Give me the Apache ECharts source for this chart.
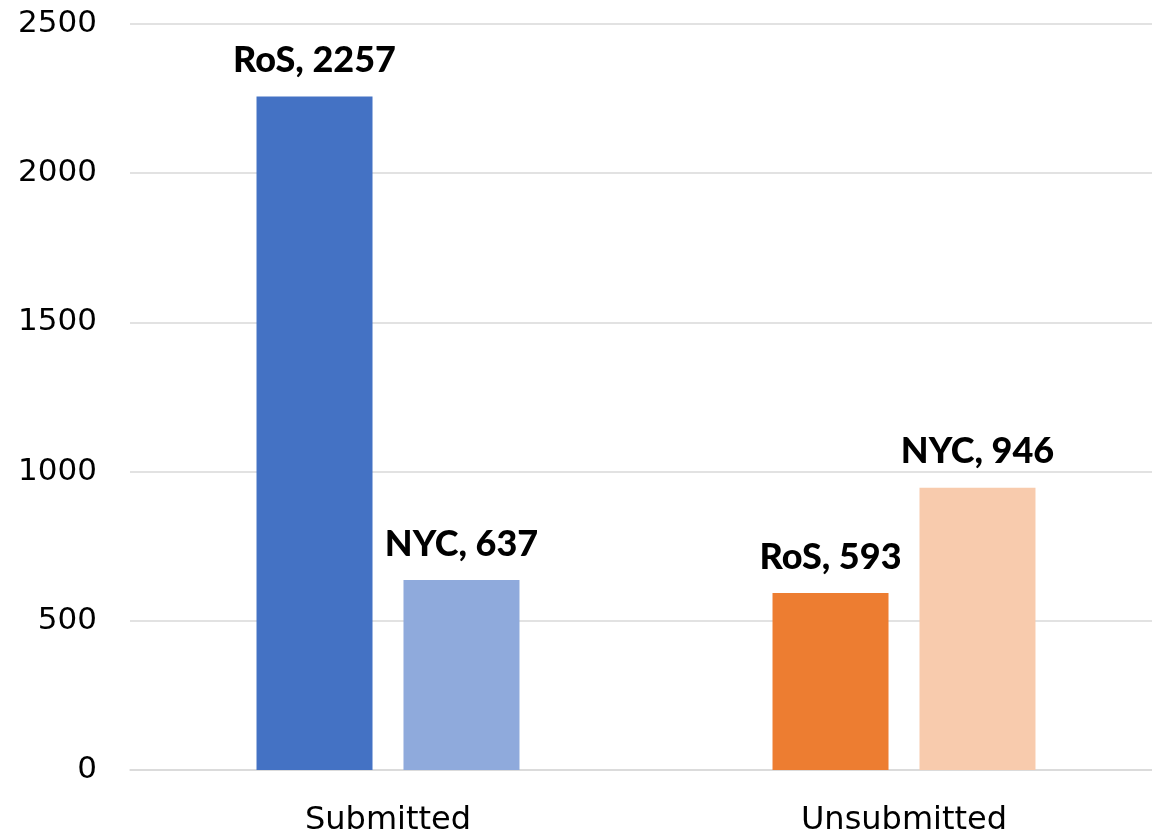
<!DOCTYPE html>
<html>
<head>
<meta charset="utf-8">
<script src="https://cdn.jsdelivr.net/npm/echarts@6/dist/echarts.min.js"></script>
<style>
  html, body { margin: 0; padding: 0; background: #fff; overflow: hidden; }
  #main { width: 1162px; height: 837px; }
</style>
</head>
<body>
<div id="main"></div>
<script>
const categories = ['Submitted', 'Unsubmitted'];
const rosValues = [2257, 593];
const nycValues = [637, 946];
const rosColors = ['#4472C4', '#ED7D31'];
const nycColors = ['#8FAADC', '#F8CBAD'];

const chartDom = document.getElementById('main');
const myChart = echarts.init(chartDom);

const AXIS_FONT = 'DejaVu Sans';
const LABEL_FONT = 'Lato';

function makeSeries(name, values, colors) {
  return {
    name: name,
    type: 'bar',
    barWidth: 116,
    barGap: '26.7%',
    data: values.map((v, i) => ({ value: v, itemStyle: { color: colors[i] } })),
    label: {
      show: true,
      position: 'top',
      distance: 18,
      formatter: (p) => p.seriesName + ', ' + p.value,
      fontFamily: LABEL_FONT,
      fontWeight: 900,
      fontSize: 36,
      color: '#000',
    },
  };
}

const option = {
  animation: false,
  grid: {
    left: 130,
    top: 24,
    right: 0,
    bottom: 67,
    containLabel: false,
  },
  xAxis: {
    type: 'category',
    data: categories,
    axisLine: { show: true, lineStyle: { color: '#d9d9d9', width: 1.5 } },
    axisTick: { show: false },
    axisLabel: {
      fontFamily: AXIS_FONT,
      fontSize: 32,
      color: '#000',
      margin: 35,
    },
  },
  yAxis: {
    type: 'value',
    min: 0,
    max: 2500,
    interval: 500,
    axisLine: { show: false },
    axisTick: { show: false },
    splitLine: { lineStyle: { color: '#d9d9d9', width: 1.5 } },
    axisLabel: {
      fontFamily: AXIS_FONT,
      fontSize: 31,
      color: '#000',
      margin: 33,
      formatter: (v) => String(v),
    },
  },
  series: [
    makeSeries('RoS', rosValues, rosColors),
    makeSeries('NYC', nycValues, nycColors),
  ],
};

option && myChart.setOption(option);
</script>
</body>
</html>
